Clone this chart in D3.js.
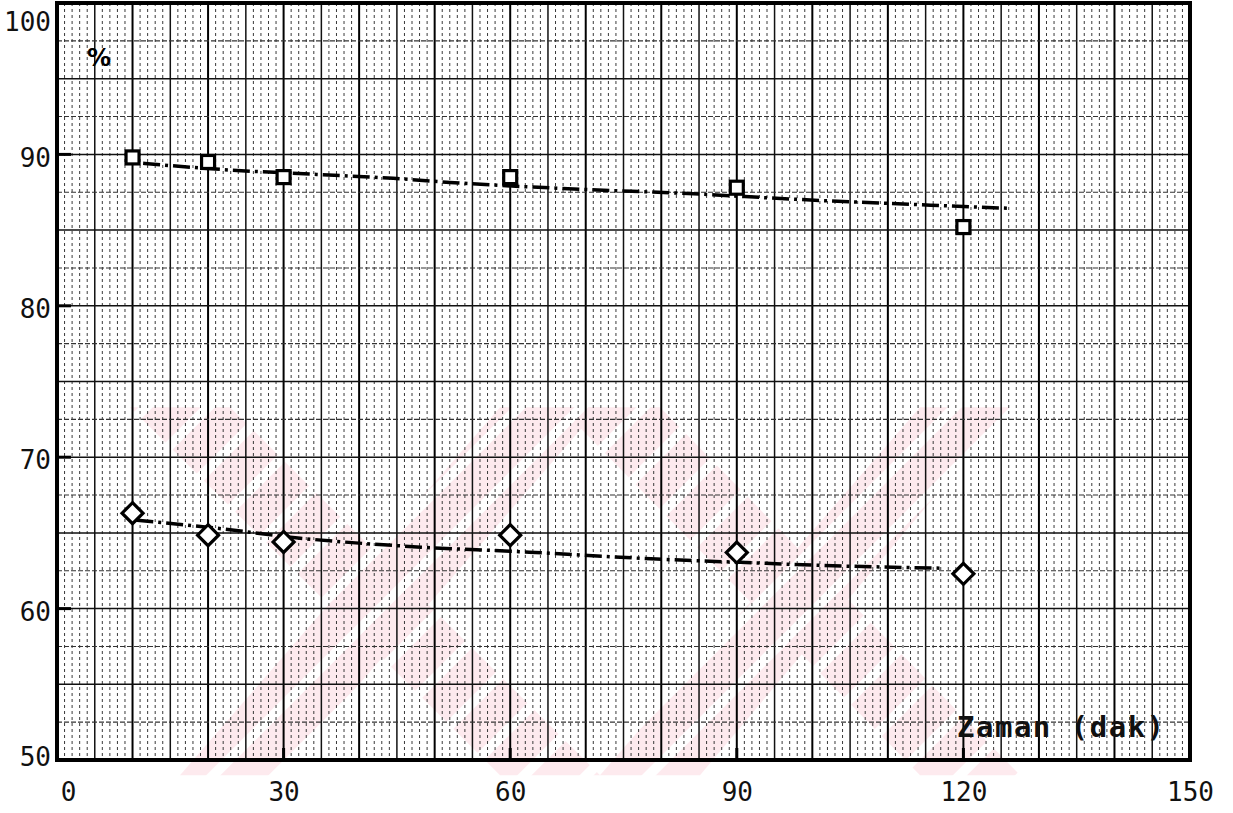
<!DOCTYPE html>
<html>
<head>
<meta charset="utf-8">
<script src="https://cdn.jsdelivr.net/npm/d3@7"></script>
<style>
  html, body { margin: 0; padding: 0; background: #ffffff; }
  svg { display: block; }
</style>
</head>
<body>
<svg id="chart" width="1233" height="813"></svg>
<script>
// ---------- data ----------
const xTicks = [0, 30, 60, 90, 120, 150];
const yTicks = [50, 60, 70, 80, 90, 100];
const times = [10, 20, 30, 60, 90, 120];
const squareValues = [89.8, 89.5, 88.5, 88.5, 87.8, 85.2];
const diamondValues = [66.3, 64.85, 64.4, 64.85, 63.7, 62.3];
const squareTrendX = [11.4, 21.6, 34.4, 44.5, 52, 69.6, 82.8, 98, 118, 126];
const squareTrendY = [89.41, 89.01, 88.68, 88.42, 88.15, 87.69, 87.43, 87.03, 86.6, 86.44];
const diamondTrendX = [10.5, 19.9, 32.2, 48.2, 62.5, 79.4, 89.7, 100.1, 117];
const diamondTrendY = [65.84, 65.38, 64.65, 64.06, 63.73, 63.27, 63.07, 62.87, 62.67];
const xLabel = "Zaman (dak)";
const yLabel = "%";

(function () {
// ---------- setup ----------
const svg = d3.select("#chart");
const pL = 57, pR = 1190, pT = 3, pB = 760;
const x = d3.scaleLinear().domain([0, 150]).range([pL, pR]);
const y = d3.scaleLinear().domain([50, 100]).range([pB, pT]);

// ---------- faint watermark ----------
const defs = svg.append("defs");
const pat = defs.append("pattern")
  .attr("id", "hatch").attr("patternUnits", "userSpaceOnUse")
  .attr("width", 44).attr("height", 44)
  .attr("patternTransform", "rotate(45)");
pat.append("rect").attr("x", 0).attr("y", 0).attr("width", 34).attr("height", 44).attr("fill", "#fdeaee");
const wmTop = y(73.3), wmBot = y(49);
const bands = [
  [[130, 230], [500, 600]],
  [[500, 600], [180, 280]],
  [[560, 660], [920, 1020]],
  [[920, 1010], [600, 700]]
];
const wm = svg.append("g");
bands.forEach(b => {
  wm.append("path")
    .attr("d", `M${b[0][0]},${wmTop}L${b[0][1]},${wmTop}L${b[1][1]},${wmBot}L${b[1][0]},${wmBot}Z`)
    .attr("fill", "url(#hatch)");
});

// ---------- graph-paper grid ----------
const grid = svg.append("g");
const vVals = d3.range(0, 151, 1);
grid.selectAll("line.v").data(vVals).join("line")
  .attr("class", "v")
  .attr("x1", d => x(d)).attr("x2", d => x(d))
  .attr("y1", pT).attr("y2", pB)
  .attr("stroke", d => d % 10 === 0 ? "#000" : (d % 5 === 0 ? "#111" : "#3a3a3a"))
  .attr("stroke-width", d => d % 10 === 0 ? 2 : (d % 5 === 0 ? 1.5 : 1))
  .attr("stroke-dasharray", d => d % 5 === 0 ? null : "3,3");

const hVals = d3.range(50, 100.01, 2.5);
grid.selectAll("line.h").data(hVals).join("line")
  .attr("class", "h")
  .attr("x1", pL).attr("x2", pR)
  .attr("y1", d => y(d)).attr("y2", d => y(d))
  .attr("stroke", d => d % 5 === 0 ? "#111" : "#333")
  .attr("stroke-width", d => d % 5 === 0 ? 1.5 : 1.1)
  .attr("stroke-dasharray", d => d % 5 === 0 ? null : "5,2");

// ---------- frame ----------
svg.append("rect")
  .attr("x", pL).attr("y", pT)
  .attr("width", pR - pL).attr("height", pB - pT)
  .attr("fill", "none").attr("stroke", "#000").attr("stroke-width", 4);

// inner tick marks
svg.append("g").selectAll("line").data(xTicks.slice(1, -1)).join("line")
  .attr("x1", d => x(d)).attr("x2", d => x(d))
  .attr("y1", pB).attr("y2", pB - 12)
  .attr("stroke", "#000").attr("stroke-width", 3);
svg.append("g").selectAll("line").data(yTicks.slice(1, -1)).join("line")
  .attr("x1", pL).attr("x2", pL + 14)
  .attr("y1", d => y(d)).attr("y2", d => y(d))
  .attr("stroke", "#000").attr("stroke-width", 3);

// ---------- axes (labels only) ----------
const tickFont = "'DejaVu Sans Mono', monospace";
const xAxis = svg.append("g")
  .attr("transform", `translate(0,${pB})`)
  .call(d3.axisBottom(x).tickValues(xTicks).tickSize(0).tickPadding(23).tickFormat(d3.format("d")));
xAxis.select(".domain").remove();
xAxis.selectAll("text")
  .attr("font-family", tickFont).attr("font-size", 26).attr("fill", "#111")
  .attr("dx", d => d === 0 ? 11 : 0);

const yAxis = svg.append("g")
  .attr("transform", `translate(${pL},0)`)
  .call(d3.axisLeft(y).tickValues(yTicks).tickSize(0).tickPadding(6).tickFormat(d3.format("d")));
yAxis.select(".domain").remove();
yAxis.selectAll("text")
  .attr("font-family", tickFont).attr("font-size", 26).attr("fill", "#111")
  .attr("dy", d => d === 100 ? "1.05em" : (d === 50 ? "0.2em" : "0.45em"));

// ---------- trend lines ----------
const line = d3.line().x(d => x(d[0])).y(d => y(d[1])).curve(d3.curveMonotoneX);
const sqTrend = squareTrendX.map((v, i) => [v, squareTrendY[i]]);
const diTrend = diamondTrendX.map((v, i) => [v, diamondTrendY[i]]);
[sqTrend, diTrend].forEach(pts => {
  svg.append("path").datum(pts)
    .attr("d", line)
    .attr("fill", "none").attr("stroke", "#000")
    .attr("stroke-width", 3.5)
    .attr("stroke-dasharray", "17,5,3,5")
    .attr("stroke-linecap", "butt");
});

// ---------- markers ----------
const sqSize = 13;
svg.append("g").selectAll("rect").data(times.map((t, i) => [t, squareValues[i]])).join("rect")
  .attr("x", d => x(d[0]) - sqSize / 2).attr("y", d => y(d[1]) - sqSize / 2)
  .attr("width", sqSize).attr("height", sqSize)
  .attr("fill", "#fff").attr("stroke", "#000").attr("stroke-width", 3.2);

const dh = 10.5;
svg.append("g").selectAll("path").data(times.map((t, i) => [t, diamondValues[i]])).join("path")
  .attr("d", d => {
    const cx = x(d[0]), cy = y(d[1]);
    return `M${cx},${cy - dh}L${cx + dh},${cy}L${cx},${cy + dh}L${cx - dh},${cy}Z`;
  })
  .attr("fill", "#fff").attr("stroke", "#000").attr("stroke-width", 3.2);

// ---------- labels ----------
svg.append("text")
  .attr("x", 99).attr("y", 66)
  .attr("text-anchor", "middle")
  .attr("font-family", "'DejaVu Sans', sans-serif").attr("font-weight", "bold").attr("font-size", 24)
  .attr("fill", "#000").text(yLabel);

svg.append("text")
  .attr("x", 957).attr("y", 737)
  .attr("font-family", tickFont).attr("font-weight", "bold").attr("font-size", 29)
  .attr("letter-spacing", 1.5)
  .attr("fill", "#111").text(xLabel);
})();
</script>
</body>
</html>
